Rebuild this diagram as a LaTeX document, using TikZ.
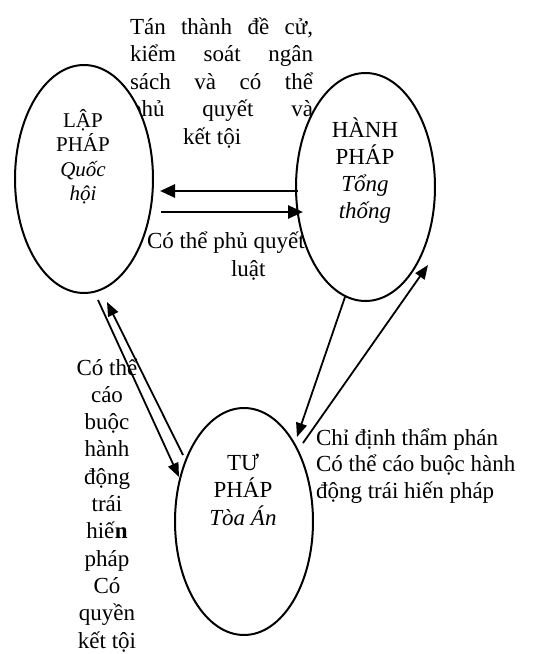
\documentclass[tikz,border=0pt]{standalone}
\usepackage{fontspec}
\setmainfont{Liberation Serif}
\usetikzlibrary{shapes.geometric,arrows.meta}
\tikzset{
  branch/.style={draw=black, ellipse, fill=white, line width=2pt, inner sep=0pt},
  txt/.style={inner sep=0pt, outer sep=0pt},
  thickarrow/.style={line width=2.6pt, -{Triangle[length=15pt,width=13pt]}},
  thinarrow/.style={line width=1.8pt, -{Triangle[length=14pt,width=11pt]}}
}
\begin{document}
\begin{tikzpicture}[x=1pt,y=-1pt]
\useasboundingbox (0,0) rectangle (535,654);
% text outside ellipses
\node[txt, anchor=base west] (top) at (130,34) {\parbox[t]{183pt}{\fontsize{23}{27.5}\selectfont
\makebox[183pt][s]{Tán thành đề cử,}\\
\makebox[183pt][s]{kiểm soát ngân}\\
\makebox[183pt][s]{sách và có thể}\\
\makebox[183pt][s]{phủ quyết và}\\
\hspace*{53pt}kết tội}};
\node[txt, anchor=base west] (veto) at (147,248) {\parbox[t]{200pt}{\fontsize{23}{28}\selectfont
Có thể phủ quyết\\
\hspace*{84pt}luật}};
\node[txt, anchor=base] (leftcol) at (107,375) {\parbox[t]{90pt}{\centering\fontsize{23}{27.3}\selectfont
Có thể\\cáo\\buộc\\hành\\động\\trái\\hiế\textbf{n}\\pháp\\Có\\quyền\\kết tội}};
\node[txt, anchor=base west] (rightcol) at (316,445) {\parbox[t]{220pt}{\raggedright\fontsize{23}{26.5}\selectfont
Chỉ định thẩm phán\\
Có thể cáo buộc hành\\
động trái hiến pháp}};
% ellipses
\node[branch, minimum width=138pt, minimum height=228pt] (L) at (84,179) {};
\node[branch, minimum width=139pt, minimum height=228pt] (R) at (365.5,187) {};
\node[branch, minimum width=138pt, minimum height=227pt] (B) at (244,521.5) {};
% labels in ellipses
\node[txt, anchor=base] (Ltxt) at (83,127) {\parbox[t]{100pt}{\centering\fontsize{21}{24.5}\selectfont
LẬP\\PHÁP\\\textit{Quốc}\\\textit{hội}}};
\node[txt, anchor=base] (Rtxt) at (365,137) {\parbox[t]{100pt}{\centering\fontsize{23}{27}\selectfont
HÀNH\\PHÁP\\\textit{Tổng}\\\textit{thống}}};
\node[txt, anchor=base] (Btxt) at (243,470) {\parbox[t]{100pt}{\centering\fontsize{23}{27.5}\selectfont
TƯ\\PHÁP\\\textit{Tòa Án}}};
% arrow end points
\coordinate (a1s) at (298,191); \coordinate (a1e) at (160,191);
\coordinate (a2s) at (161,212); \coordinate (a2e) at (303,212);
\coordinate (a3s) at (98,300);  \coordinate (a3e) at (179,477);
\coordinate (a4s) at (183,455); \coordinate (a4e) at (107,302);
\coordinate (a5s) at (345,297); \coordinate (a5e) at (297,437);
\coordinate (a6s) at (303,443); \coordinate (a6e) at (428,265);
\draw[thickarrow] (a1s) -- (a1e);
\draw[thickarrow] (a2s) -- (a2e);
\draw[thinarrow] (a3s) -- (a3e);
\draw[thinarrow] (a4s) -- (a4e);
\draw[thinarrow] (a5s) -- (a5e);
\draw[thinarrow] (a6s) -- (a6e);
\end{tikzpicture}
\end{document}
